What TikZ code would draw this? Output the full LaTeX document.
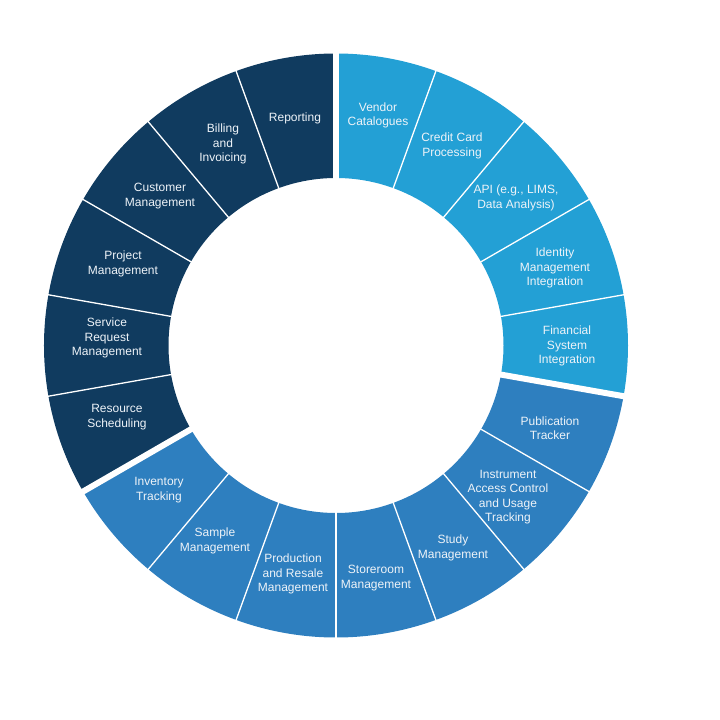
\documentclass[tikz,border=0pt]{standalone}
\usepackage{fontspec}
\setmainfont{Liberation Sans}
\definecolor{navy}{RGB}{16,59,95}
\definecolor{lblue}{RGB}{35,160,213}
\definecolor{mblue}{RGB}{46,127,191}
\definecolor{txt}{RGB}{238,243,248}
\begin{document}
\begin{tikzpicture}[x=1pt,y=1pt,
  lbl/.style={text=txt,align=center,font=\fontsize{12}{14.5}\selectfont,inner sep=0pt},
  thin sep/.style={white,line width=1.3pt},
  thick sep/.style={white,line width=6pt}]
\useasboundingbox (-336,-374.5) rectangle (384,345.5);
\def\R{292}\def\r{167.5}
\newcommand{\sector}[3]{\fill[#1] (#2:\R) arc[start angle=#2,end angle=#3,radius=\R] -- (#3:\r) arc[start angle=#3,end angle=#2,radius=\r] -- cycle;}
% light blue 90 -> -10
\foreach \a in {90,70,50,30,10}{\pgfmathsetmacro\b{\a-20}\sector{lblue}{\a}{\b}}
% medium blue -10 -> -150
\foreach \a in {-10,-30,-50,-70,-90,-110,-130}{\pgfmathsetmacro\b{\a-20}\sector{mblue}{\a}{\b}}
% navy 210 -> 90
\foreach \a in {210,190,170,150,130,110}{\pgfmathsetmacro\b{\a-20}\sector{navy}{\a}{\b}}
% separators
\foreach \a in {70,50,30,10,-30,-50,-70,-90,-110,-130,190,170,150,130,110}
  \draw[thin sep] (\a:\r-2) -- (\a:\R+2);
\foreach \a in {90,-10,210}
  \draw[thick sep] (\a:\r-2) -- (\a:\R+2);
% labels (pixel positions converted: x-336, 345.5-y)
\node[lbl] (rep) at (-41,227.5) {Reporting};
\node[lbl] (ven) at (42,230) {Vendor\\Catalogues};
\node[lbl] (cre) at (116,199.5) {Credit Card\\Processing};
\node[lbl] (api) at (180,147.5) {API (e.g., LIMS,\\Data Analysis)};
\node[lbl] (ide) at (219,77.5) {Identity\\Management\\Integration};
\node[lbl] (fin) at (231,-0.5) {Financial\\System\\Integration};
\node[lbl] (pub) at (214,-82.5) {Publication\\Tracker};
\node[lbl] (ins) at (172,-151.5) {Instrument\\Access Control\\and Usage\\Tracking};
\node[lbl] (stu) at (117,-202.5) {Study\\Management};
\node[lbl] (sto) at (40,-232.5) {Storeroom\\Management};
\node[lbl] (pro) at (-43,-228.5) {Production\\and Resale\\Management};
\node[lbl] (sam) at (-121,-195.5) {Sample\\Management};
\node[lbl] (inv) at (-177,-144.5) {Inventory\\Tracking};
\node[lbl] (res) at (-219,-71.5) {Resource\\Scheduling};
\node[lbl] (ser) at (-229,7.5) {Service\\Request\\Management};
\node[lbl] (prj) at (-213,81.5) {Project\\Management};
\node[lbl] (cus) at (-176,149.5) {Customer\\Management};
\node[lbl] (bil) at (-113,201.5) {Billing\\and\\Invoicing};
\end{tikzpicture}
\end{document}
